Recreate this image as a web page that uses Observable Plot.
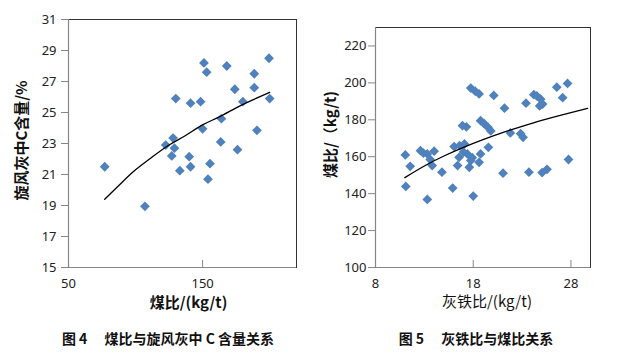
<!DOCTYPE html>
<html>
<head>
<meta charset="utf-8">
<script src="https://cdn.jsdelivr.net/npm/d3@7"></script>
<script src="https://cdn.jsdelivr.net/npm/@observablehq/plot@0.6"></script>
<style>
  body { margin: 0; background: #fff; }
  #wrap { position: relative; width: 632px; height: 356px; background: #fff; overflow: hidden; }
  .panel { position: absolute; top: 0; }
  .cap { position: absolute; font-family: "Noto Sans CJK SC", sans-serif; font-weight: bold; font-size: 14px; color: #111; text-align: center; white-space: pre; line-height: 1; }
</style>
</head>
<body>
<div id="wrap"></div>
<script>
// ---- Figure 4: 煤比 vs 旋风灰中C含量 ----
const f4CoalRatio = [77, 130, 141, 148.5, 151, 153, 168, 174, 180, 188.5, 188.5, 199.5, 200, 190.5, 176, 164, 163.5, 150, 128, 122.5, 129, 127, 140, 141, 133, 155.5, 154, 107];
const f4CarbonPct = [21.5, 25.9, 25.6, 25.7, 28.2, 27.6, 28.0, 26.5, 25.7, 27.5, 26.6, 28.5, 25.9, 23.85, 22.6, 24.6, 23.1, 23.95, 23.35, 22.9, 22.7, 22.2, 22.15, 21.5, 21.25, 21.7, 20.7, 18.95];
const f4TrendX = [77, 90, 100, 112, 125, 137, 150, 162, 175, 187, 200];
const f4TrendY = [19.4, 20.5, 21.3, 22.1, 22.9, 23.5, 24.2, 24.7, 25.3, 25.8, 26.3];
const f4XTicks = [50, 150];
const f4YTicks = [15, 17, 19, 21, 23, 25, 27, 29, 31];

// ---- Figure 5: 灰铁比 vs 煤比 ----
const f5AshIron = [11.05, 11.55, 11.1, 12.6, 13.3, 14.0, 13.6, 13.8, 13.3, 14.8, 15.9, 16.05, 16.6, 17.1, 16.9, 17.3, 16.55, 16.4, 17.6, 17.4, 17.75, 18.6, 18.75, 17.0, 18.0, 17.75, 18.2, 18.6, 18.75, 19.1, 19.5, 19.8, 19.55, 20.1, 21.2, 21.05, 21.8, 22.85, 23.1, 23.4, 23.7, 24.2, 24.5, 24.9, 25.1, 24.8, 25.05, 25.55, 26.55, 27.15, 27.65, 27.75, 12.9, 17.9];
const f5CoalRatio = [161.0, 154.8, 143.9, 163.3, 161.5, 163.0, 158.5, 155.2, 136.9, 151.6, 143.0, 165.5, 166.0, 166.9, 176.8, 176.2, 159.7, 155.2, 154.3, 161.5, 157.9, 157.0, 161.5, 162.5, 138.7, 197.2, 195.5, 194.0, 179.5, 178.0, 176.0, 174.0, 165.1, 193.2, 186.3, 151.1, 172.9, 172.5, 170.5, 189.0, 151.6, 193.6, 193.0, 191.2, 188.5, 187.5, 151.4, 153.2, 197.7, 192.0, 199.7, 158.5, 162.0, 159.5];
const f5TrendX = [11, 13, 15, 17, 19, 21, 23, 25, 27, 29.7];
const f5TrendY = [148.7, 155.0, 160.4, 165.1, 169.3, 173.1, 176.5, 179.7, 182.6, 186.2];
const f5XTicks = [8, 18, 28];
const f5YTicks = [100, 120, 140, 160, 180, 200, 220];

const f4Points = f4CoalRatio.map((x, i) => ({x, y: f4CarbonPct[i]}));
const f4Trend = f4TrendX.map((x, i) => ({x, y: f4TrendY[i]}));
const f5Points = f5AshIron.map((x, i) => ({x, y: f5CoalRatio[i]}));
const f5Trend = f5TrendX.map((x, i) => ({x, y: f5TrendY[i]}));

const blue = "#4F81BD";
const axisGray = "#868686";
const baseStyle = {fontFamily: "'Noto Sans', 'Open Sans', sans-serif", fontSize: "13px", color: "#222", background: "transparent", overflow: "visible"};

function panel(opts) {
  const {points, trend, xDomain, yDomain, xTicks, yTicks, mL, mR, mT, mB, xLabel, yLabel, xLabelBold, xl, yl} = opts;
  const frameH = 356 - mT - mB;
  return Plot.plot({
    width: 316, height: 356,
    marginLeft: mL, marginRight: mR, marginTop: mT, marginBottom: mB,
    style: baseStyle,
    x: {domain: xDomain},
    y: {domain: yDomain},
    marks: [
      Plot.frame({stroke: "#333", strokeWidth: 1}),
      Plot.ruleX([xDomain[0]], {stroke: axisGray, strokeWidth: 1.2}),
      Plot.ruleY([yDomain[0]], {stroke: axisGray, strokeWidth: 1.2}),
      Plot.tickX(xTicks, {x: d => d, stroke: axisGray, strokeWidth: 1, insetTop: frameH - 7}),
      Plot.axisY({ticks: yTicks, tickSize: 7, tickPadding: opts.yPad, stroke: axisGray, fill: "#222", label: null}),
      Plot.axisX({ticks: xTicks, tickSize: 0, tickPadding: 11, fill: "#222", label: null}),
      Plot.dot(points, {x: "x", y: "y", symbol: "diamond2", r: 4.4, fill: blue, stroke: "none"}),
      Plot.line(trend, {x: "x", y: "y", stroke: "#000", strokeWidth: 1.3, curve: "natural"}),
      Plot.text([xLabel], {frameAnchor: "bottom", dx: xl[0], dy: xl[1], text: d => d, textAnchor: "middle", fontFamily: "'Noto Sans CJK SC', sans-serif", fontSize: 15, fontWeight: xLabelBold ? "bold" : "normal", fill: "#111", lineAnchor: "middle"}),
      Plot.text([yLabel], {frameAnchor: "left", dx: yl[0], dy: yl[1], rotate: -90, text: d => d, textAnchor: "middle", fontFamily: "'Noto Sans CJK SC', sans-serif", fontSize: 15, fontWeight: "bold", fill: "#111", lineAnchor: "middle"})
    ]
  });
}

const wrap = document.getElementById("wrap");

const p4 = panel({
  points: f4Points, trend: f4Trend,
  xDomain: [50, 220], yDomain: [15, 31], xTicks: f4XTicks, yTicks: f4YTicks,
  mL: 68, mR: 20, mT: 19, mB: 89, yPad: 5,
  xLabel: "煤比/(kg/t)", yLabel: "旋风灰中C含量/%", xLabelBold: true,
  xl: [6, 36], yl: [-46, -3]
});
p4.classList.add("panel"); p4.style.left = "0px";
wrap.appendChild(p4);

const p5 = panel({
  points: f5Points, trend: f5Trend,
  xDomain: [8, 30], yDomain: [100, 230], xTicks: f5XTicks, yTicks: f5YTicks,
  mL: 59, mR: 42, mT: 27, mB: 89, yPad: 2,
  xLabel: "灰铁比/(kg/t)", yLabel: "煤比/（kg/t)", xLabelBold: false,
  xl: [4, 35], yl: [-44, -13]
});
p5.classList.add("panel"); p5.style.left = "316px";
wrap.appendChild(p5);

const cap1 = document.createElement("div");
cap1.className = "cap";
cap1.textContent = "图 4　 煤比与旋风灰中 C 含量关系";
cap1.style.left = "18px"; cap1.style.width = "300px"; cap1.style.top = "331px";
wrap.appendChild(cap1);

const cap2 = document.createElement("div");
cap2.className = "cap";
cap2.textContent = "图 5　 灰铁比与煤比关系";
cap2.style.left = "326px"; cap2.style.width = "300px"; cap2.style.top = "331px";
wrap.appendChild(cap2);
</script>
</body>
</html>
